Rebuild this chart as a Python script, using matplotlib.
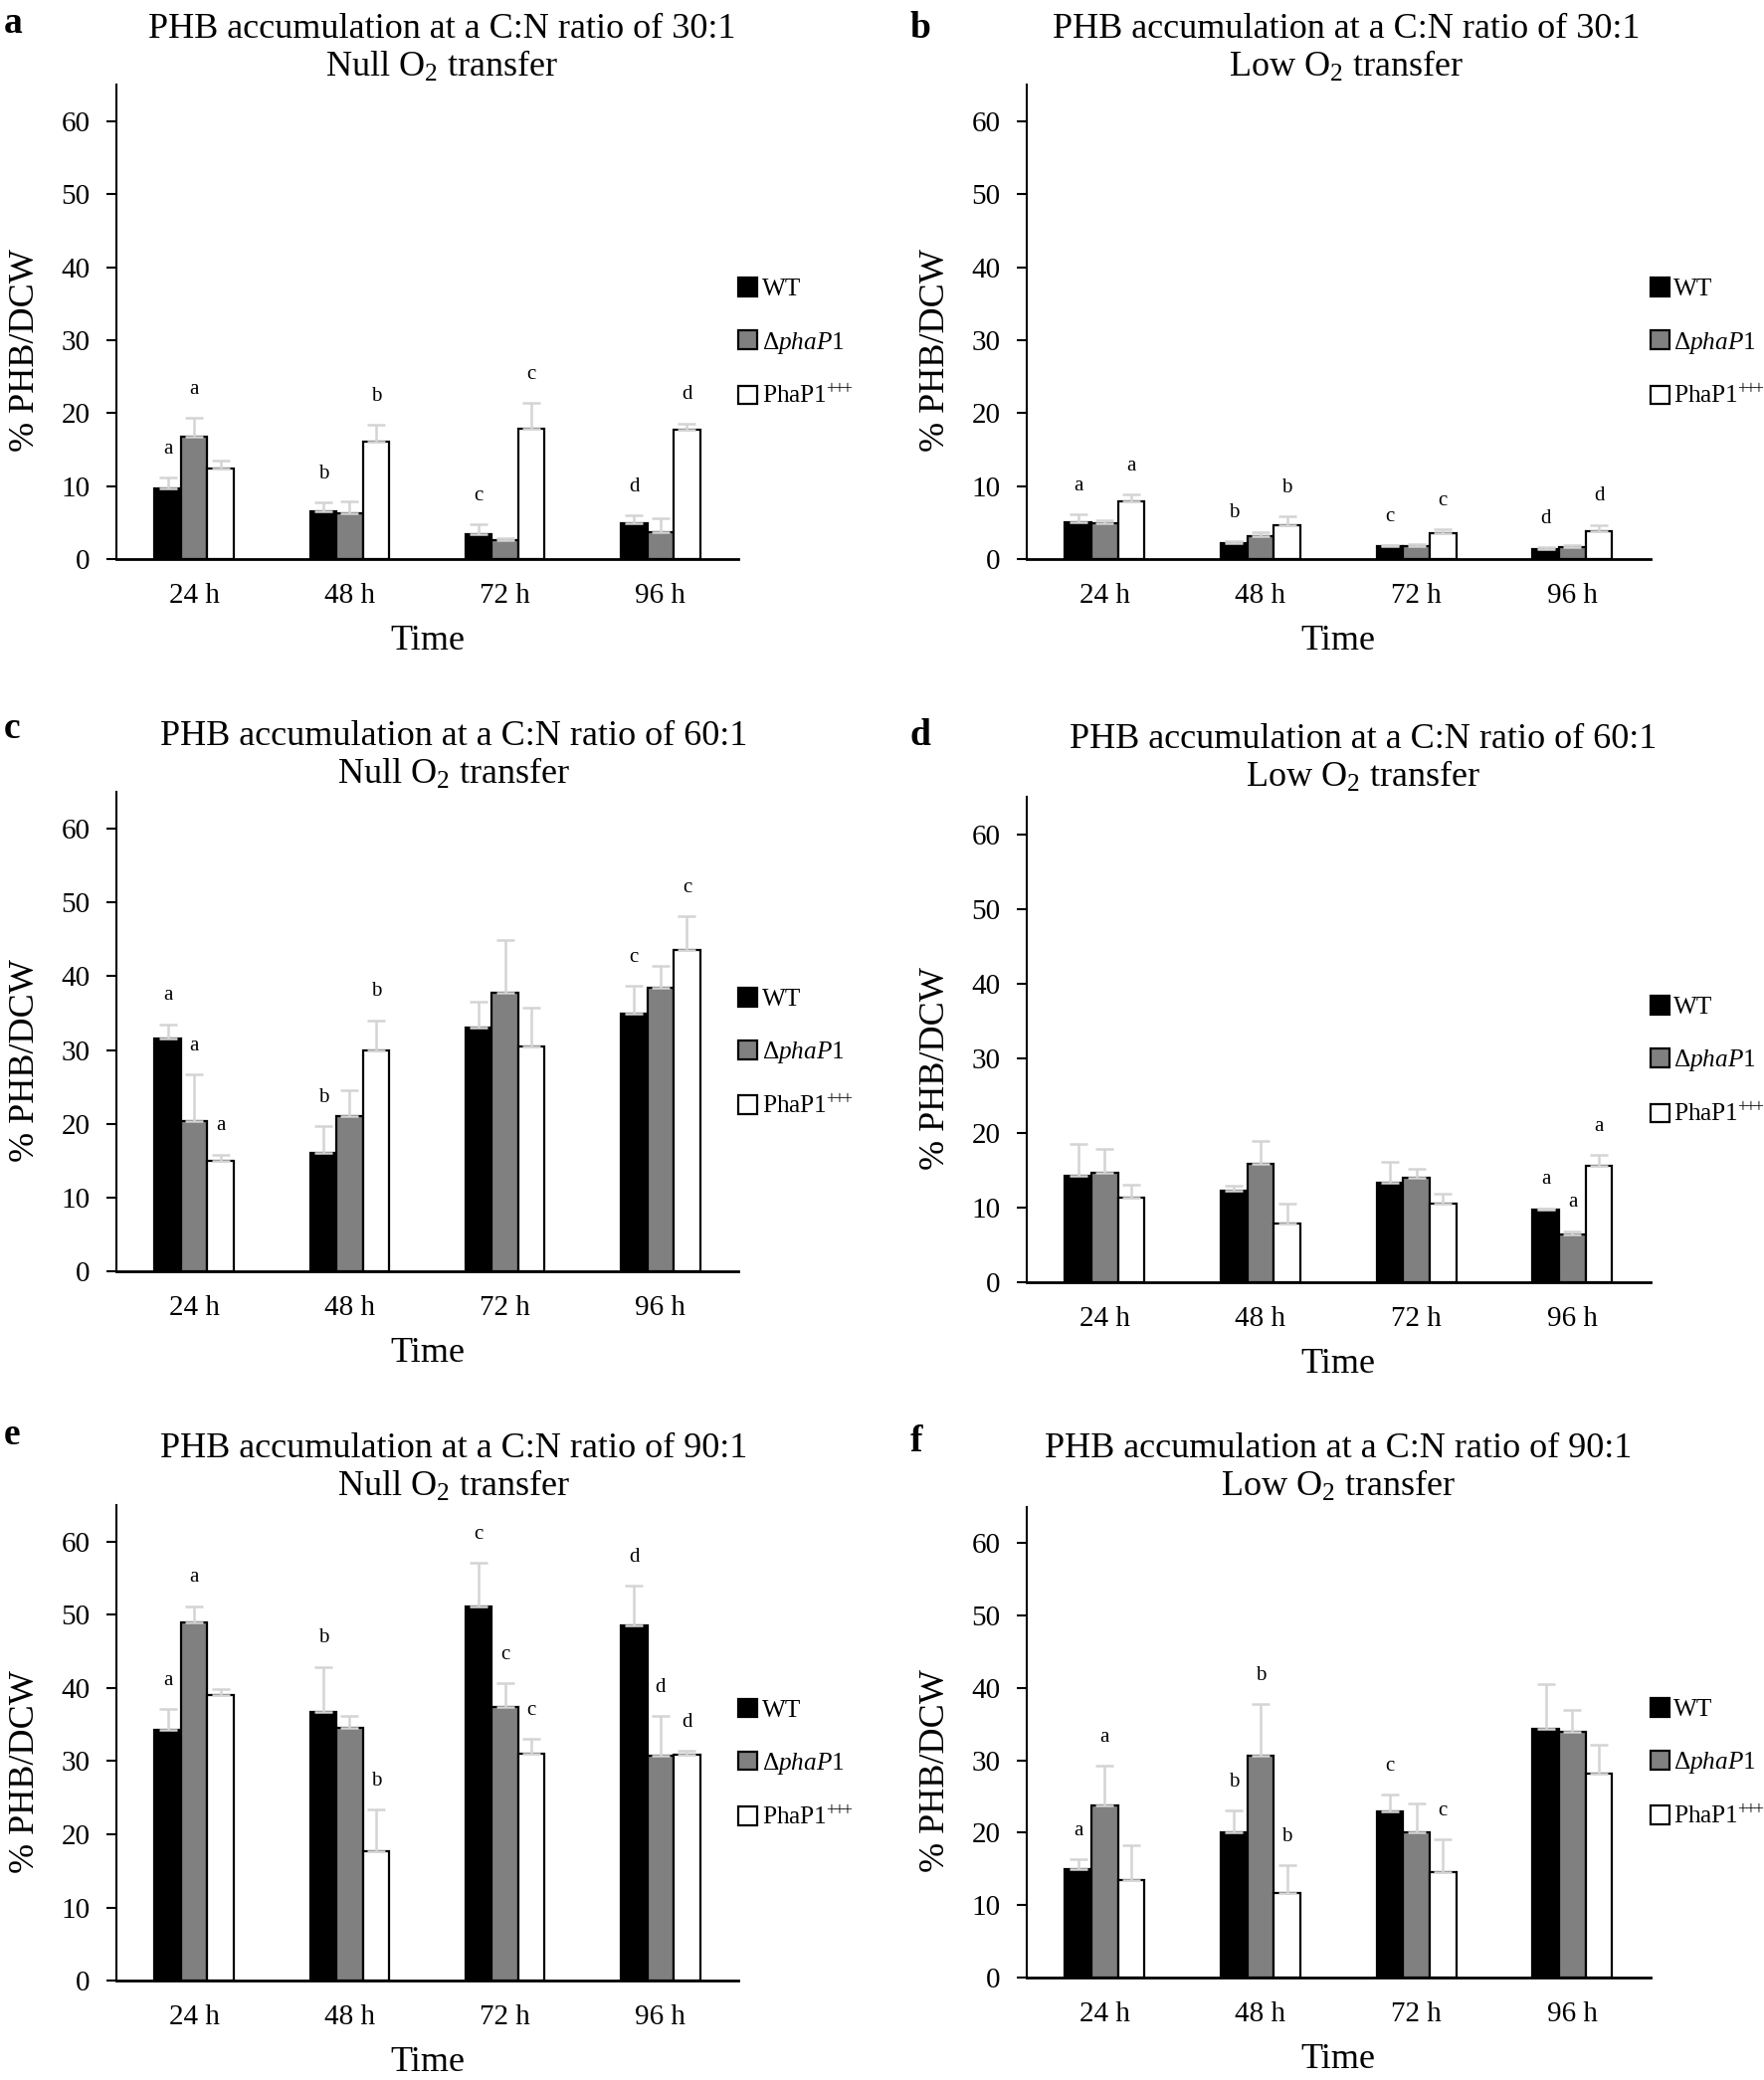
import matplotlib
matplotlib.use("Agg")
import matplotlib.pyplot as plt
from matplotlib.patches import Patch
import numpy as np

plt.rcParams['font.family'] = ['Liberation Serif', 'DejaVu Serif']
plt.rcParams['mathtext.fontset'] = 'custom'
plt.rcParams['mathtext.rm'] = 'Liberation Serif'
plt.rcParams['mathtext.it'] = 'Liberation Serif:italic'
plt.rcParams['mathtext.bf'] = 'Liberation Serif:bold'

# ---------------- data ----------------
times = ["24 h", "48 h", "72 h", "96 h"]
series_names = ["WT", "Δ$\\mathit{phaP}$1", "PhaP1$^{{+}\\!{+}\\!{+}}$"]

ratios = ["30:1", "30:1", "60:1", "60:1", "90:1", "90:1"]
o2 = ["Null", "Low", "Null", "Low", "Null", "Low"]
panel_letters = ["a", "b", "c", "d", "e", "f"]

# panel a : C:N 30:1, null O2
a_wt = [9.7, 6.5, 3.4, 4.85]
a_wt_err = [1.5, 1.3, 1.4, 1.15]
a_dp = [16.8, 6.3, 2.6, 3.7]
a_dp_err = [2.5, 1.6, 0.3, 1.9]
a_ox = [12.35, 16.1, 17.8, 17.7]
a_ox_err = [1.15, 2.3, 3.6, 0.9]
a_wt_lab = ["a", "b", "c", "d"]
a_dp_lab = ["a", "", "", ""]
a_ox_lab = ["", "b", "c", "d"]

# panel b : C:N 30:1, low O2
b_wt = [5.0, 2.2, 1.8, 1.4]
b_wt_err = [1.1, 0.3, 0.15, 0.2]
b_dp = [4.85, 3.1, 1.8, 1.6]
b_dp_err = [0.45, 0.6, 0.3, 0.3]
b_ox = [7.9, 4.7, 3.55, 3.85]
b_ox_err = [1.0, 1.2, 0.55, 0.85]
b_wt_lab = ["a", "b", "c", "d"]
b_dp_lab = ["", "", "", ""]
b_ox_lab = ["a", "b", "c", "d"]

# panel c : C:N 60:1, null O2
c_wt = [31.5, 16.0, 33.1, 34.9]
c_wt_err = [2.0, 3.7, 3.4, 3.8]
c_dp = [20.3, 21.1, 37.7, 38.5]
c_dp_err = [6.4, 3.5, 7.2, 2.9]
c_ox = [15.0, 29.9, 30.5, 43.5]
c_ox_err = [0.8, 4.1, 5.3, 4.6]
c_wt_lab = ["a", "b", "", "c"]
c_dp_lab = ["a", "", "", ""]
c_ox_lab = ["a", "b", "", "c"]

# panel d : C:N 60:1, low O2
d_wt = [14.3, 12.3, 13.25, 9.7]
d_wt_err = [4.2, 0.55, 2.9, 0.15]
d_dp = [14.6, 15.9, 14.0, 6.4]
d_dp_err = [3.3, 3.0, 1.2, 0.4]
d_ox = [11.3, 7.8, 10.5, 15.6]
d_ox_err = [1.7, 2.7, 1.3, 1.4]
d_wt_lab = ["", "", "", "a"]
d_dp_lab = ["", "", "", "a"]
d_ox_lab = ["", "", "", "a"]

# panel e : C:N 90:1, null O2
e_wt = [34.3, 36.7, 51.2, 48.5]
e_wt_err = [2.8, 6.2, 5.9, 5.5]
e_dp = [49.0, 34.5, 37.4, 30.8]
e_dp_err = [2.2, 1.7, 3.2, 5.4]
e_ox = [39.0, 17.7, 31.0, 30.9]
e_ox_err = [0.9, 5.7, 2.0, 0.5]
e_wt_lab = ["a", "b", "c", "d"]
e_dp_lab = ["a", "", "c", "d"]
e_ox_lab = ["", "b", "c", "d"]

# panel f : C:N 90:1, low O2
f_wt = [15.0, 20.1, 22.9, 34.35]
f_wt_err = [1.4, 3.0, 2.4, 6.15]
f_dp = [23.7, 30.7, 20.1, 33.9]
f_dp_err = [5.6, 7.1, 3.9, 3.1]
f_ox = [13.4, 11.7, 14.6, 28.2]
f_ox_err = [4.8, 3.8, 4.5, 4.0]
f_wt_lab = ["a", "b", "c", ""]
f_dp_lab = ["a", "b", "", ""]
f_ox_lab = ["", "b", "c", ""]

panels = [
    ((a_wt, a_dp, a_ox), (a_wt_err, a_dp_err, a_ox_err), (a_wt_lab, a_dp_lab, a_ox_lab)),
    ((b_wt, b_dp, b_ox), (b_wt_err, b_dp_err, b_ox_err), (b_wt_lab, b_dp_lab, b_ox_lab)),
    ((c_wt, c_dp, c_ox), (c_wt_err, c_dp_err, c_ox_err), (c_wt_lab, c_dp_lab, c_ox_lab)),
    ((d_wt, d_dp, d_ox), (d_wt_err, d_dp_err, d_ox_err), (d_wt_lab, d_dp_lab, d_ox_lab)),
    ((e_wt, e_dp, e_ox), (e_wt_err, e_dp_err, e_ox_err), (e_wt_lab, e_dp_lab, e_ox_lab)),
    ((f_wt, f_dp, f_ox), (f_wt_err, f_dp_err, f_ox_err), (f_wt_lab, f_dp_lab, f_ox_lab)),
]

# ---------------- layout / style ----------------
W, H = 1773, 2091
fig = plt.figure(figsize=(W / 100, H / 100), dpi=100)

axes_rects = [
    [0.066, 0.7312, 0.3525, 0.2281],
    [0.582, 0.7312, 0.3536, 0.2281],
    [0.066, 0.3888, 0.3525, 0.2305],
    [0.582, 0.3836, 0.3536, 0.2333],
    [0.066, 0.0478, 0.3525, 0.2286],
    [0.582, 0.0493, 0.3536, 0.2262],
]
title_x = [0.523, 0.512, 0.542, 0.540, 0.542, 0.500]
title_pad = [3, 3, 4.5, 7, 6.5, 8]
letter_pos = [(0.002, 1 - 33 / H), (0.516, 1 - 38 / H), (0.002, 1 - 742 / H),
              (0.516, 1 - 749 / H), (0.002, 1 - 1452 / H), (0.516, 1 - 1459 / H)]

face_colors = ["#000000", "#808080", "#ffffff"]
bar_w = 0.17
err_color = "#d4d4d4"
x = np.arange(len(times))

for i, (vals, errs, labs) in enumerate(panels):
    ax = fig.add_axes(axes_rects[i])
    for s in range(3):
        xs = x + (s - 1) * bar_w
        ax.bar(xs, vals[s], width=bar_w, color=face_colors[s], edgecolor="black",
               linewidth=1.6, zorder=2)
        ax.errorbar(xs, vals[s], yerr=[np.zeros(len(times)), errs[s]], fmt="none",
                    ecolor=err_color, elinewidth=1.8, capsize=6.5, capthick=1.8, zorder=3)
        for j in range(len(times)):
            if labs[s][j]:
                ax.text(xs[j], vals[s][j] + errs[s][j] + 3.9, labs[s][j], ha="center",
                        va="center", fontsize=15)
    ax.set_xlim(-0.5, 3.5)
    ax.set_ylim(0, 65)
    ax.set_yticks(np.arange(0, 61, 10))
    ax.set_xticks(x)
    ax.set_xticklabels(times)
    ax.spines["top"].set_visible(False)
    ax.spines["right"].set_visible(False)
    ax.spines["left"].set_linewidth(1.5)
    ax.spines["bottom"].set_linewidth(2.0)
    ax.spines["bottom"].set_zorder(4)
    ax.tick_params(axis="y", direction="out", length=7, width=1.5, pad=12, labelsize=21)
    ax.tick_params(axis="x", length=0, pad=17, labelsize=21)
    ax.set_ylabel("% PHB/DCW", fontsize=26, labelpad=16)
    ax.yaxis.set_label_coords(-0.12, 0.44)
    ax.set_xlabel("Time", fontsize=26, labelpad=12)
    ax.set_title("PHB accumulation at a C:N ratio of %s\n%s O$_2$ transfer" % (ratios[i], o2[i]),
                 fontsize=26, x=title_x[i], pad=title_pad[i], linespacing=1.15)
    handles = [Patch(facecolor=face_colors[s], edgecolor="black", linewidth=1.6)
               for s in range(3)]
    ax.legend(handles, series_names, loc="center left", bbox_to_anchor=(1.0, 0.455),
              frameon=False, fontsize=18.2, handlelength=0.75, handleheight=0.75,
              handletextpad=0.18, labelspacing=1.15, borderpad=0, borderaxespad=0)
    fig.text(letter_pos[i][0], letter_pos[i][1], panel_letters[i], fontsize=27,
             fontweight="bold", va="baseline", ha="left")

fig.savefig("out.png", dpi=100)
